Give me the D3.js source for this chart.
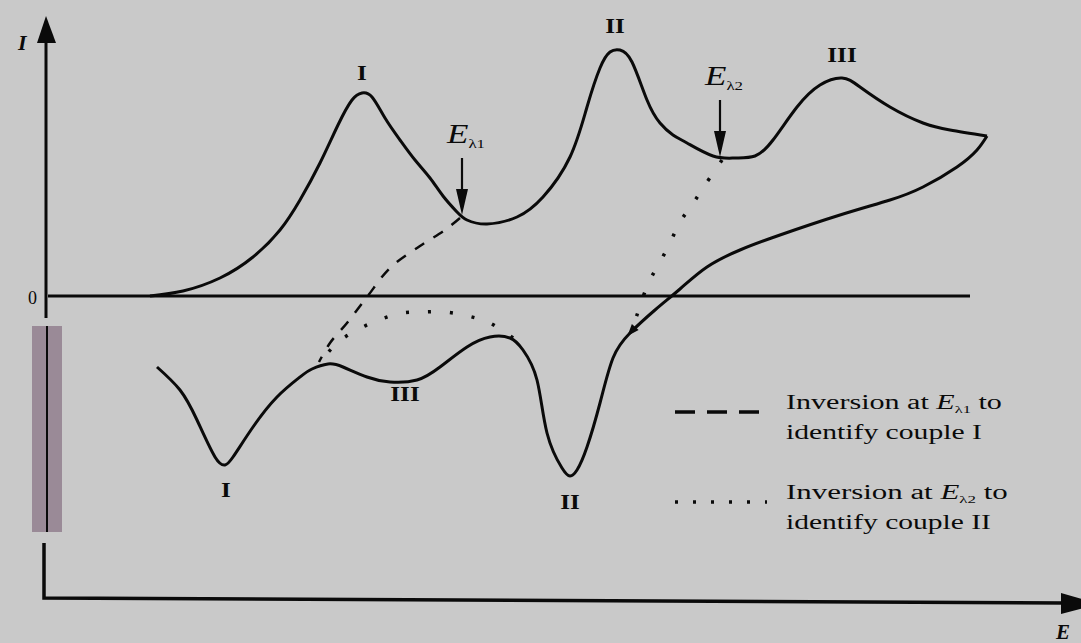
<!DOCTYPE html>
<html>
<head>
<meta charset="utf-8">
<script src="https://cdn.jsdelivr.net/npm/d3@7"></script>
<style>
  html, body { margin: 0; padding: 0; background: #c9c9c9; }
  svg { display: block; }
</style>
</head>
<body>
<svg id="chart" width="1081" height="643"></svg>
<script>
// Cyclic voltammogram with three redox couples (I, II, III),
// plus the reverse traces obtained by inverting the scan early at E_λ1 and E_λ2.

// Forward (anodic) scan: potential E and current I, arbitrary units
const forwardE = [10.5, 13.8, 17.5, 20.8, 23.5, 25.5, 27.5, 29.3, 30.7, 31.7, 32.7, 34.0, 35.5, 37.0,
  38.5, 39.8, 41.2, 42.2, 44.2, 47.2, 49.8, 52.5, 54.2, 55.5, 56.5, 57.5, 58.7, 60.2, 61.5, 62.8, 64.2,
  66.8, 69.0, 71.0, 72.8, 75.2, 77.5, 79.7, 81.5, 84.5, 87.8, 90.5, 94.2];
const forwardI = [0.0, 0.5, 1.8, 3.9, 6.6, 9.6, 13.3, 17.1, 19.6, 20.3, 19.9, 17.8, 15.6, 13.6,
  11.8, 10.0, 8.4, 7.6, 7.2, 7.9, 9.9, 13.9, 18.9, 22.8, 24.4, 24.6, 23.4, 19.6, 17.3, 16.1, 15.3,
  14.0, 13.8, 14.0, 15.6, 18.9, 21.1, 21.8, 20.9, 18.9, 17.3, 16.6, 16.0];

// Reverse (cathodic) scan after the full sweep
const reverseE = [94.2, 93.2, 91.2, 87.8, 84.5, 79.5, 73.5, 69.5, 66.2, 63.5, 61.0, 58.5,
  56.8, 55.5, 54.2, 53.2, 52.5, 51.7, 50.2, 49.2, 47.8, 46.5, 44.5, 42.2, 39.5, 37.2, 34.5, 32.2,
  29.8, 28.3, 26.7, 25.5, 23.2, 20.8, 18.8, 18.0, 17.0, 15.2, 13.5, 11.2];
const reverseI = [16.0, 14.6, 12.9, 10.9, 9.6, 8.1, 6.1, 4.6, 2.9, 0.7, -1.4, -3.7,
  -6.2, -10.7, -15.1, -17.4, -18.0, -17.2, -13.7, -8.4, -5.4, -4.2, -4.1, -5.1, -7.1, -8.4, -8.6, -8.1,
  -7.1, -6.8, -7.3, -8.1, -10.1, -13.1, -16.1, -16.9, -16.1, -12.4, -9.4, -7.1];

// Reverse trace after inversion at E_λ1 (dashed)
const invert1E = [41.5, 40.0, 37.5, 34.5, 32.2, 30.2, 28.5, 27.4];
const invert1I = [7.8, 6.6, 5.0, 2.8, -0.1, -2.7, -4.7, -6.6];

// Reverse trace after inversion at E_λ2 (dotted): descent to couple II, then the
// branch that skips couple III before rejoining near couple I
const invert2aE = [67.7, 66.0, 64.7, 63.5, 62.5, 61.5, 60.5, 59.8, 59.2, 58.6];
const invert2aI = [13.6, 11.1, 9.1, 7.4, 5.3, 3.4, 1.6, -0.1, -1.9, -3.5];
const invert2bE = [46.8, 44.5, 42.3, 40.0, 37.8, 35.7, 33.4, 31.2, 29.2, 27.7];
const invert2bI = [-4.2, -2.7, -2.0, -1.6, -1.6, -1.7, -2.4, -3.4, -4.7, -6.4];

// Peak labels: text, anchor potential/current, vertical offset in px
const peakNames = ["I", "II", "III", "I", "II", "III"];
const peakE = [31.7, 57.0, 79.7, 18.1, 52.5, 36.0];
const peakI = [20.3, 24.6, 21.8, -16.9, -18.0, -8.5];
const peakDy = [-13, -17, -16, 32, 33, 20];

// Switching potentials marked by arrows
const switchE = [41.7, 67.5];
const switchI = [8.0, 13.8];
const switchSub = ["λ1", "λ2"];

const svg = d3.select("#chart");
const W = 1081, H = 643;
svg.append("rect").attr("width", W).attr("height", H).attr("fill", "#c9c9c9");

const x = d3.scaleLinear().domain([0, 103]).range([45, 1075]);
const y = d3.scaleLinear().domain([-30, 28]).range([596, 16]);

const smooth = d3.line()
  .x(d => x(d[0])).y(d => y(d[1]))
  .curve(d3.curveNatural);
const through = d3.line()
  .x(d => x(d[0])).y(d => y(d[1]))
  .curve(d3.curveCatmullRom.alpha(0.5));
const zip = (a, b) => a.map((v, i) => [v, b[i]]);

const ink = "#0a0a0a";
const serif = "'Liberation Serif', 'DejaVu Serif', serif";

// ---- axes ----
const ax = svg.append("g");
// decorative shaded strip along the current axis
ax.append("rect").attr("x", 32).attr("y", 326).attr("width", 30).attr("height", 206)
  .attr("fill", "#9a8a97");
// current axis (drawn in segments) with arrowhead
ax.append("path").attr("d", "M46,42 L46,318").attr("stroke", ink).attr("stroke-width", 3);
ax.append("path").attr("d", "M47,326 L47,532").attr("stroke", ink).attr("stroke-width", 2);
ax.append("path").attr("d", "M44,543 L44,598 L1064,603").attr("stroke", ink)
  .attr("stroke-width", 3.5).attr("fill", "none");
ax.append("path").attr("d", "M46,16 L37,43 L56,43 Z").attr("fill", ink);
// potential axis arrowhead
ax.append("path").attr("d", "M1061,593 L1061,614 L1100,604 Z").attr("fill", ink);

// zero-current baseline with its label from a D3 axis
svg.append("line")
  .attr("x1", 48).attr("x2", 970).attr("y1", y(0)).attr("y2", y(0))
  .attr("stroke", ink).attr("stroke-width", 3);
const yAxis = svg.append("g").attr("transform", "translate(40,0)")
  .call(d3.axisLeft(y).tickValues([0]).tickSize(0).tickPadding(3).tickFormat(d3.format("d")));
yAxis.select(".domain").remove();
yAxis.selectAll("text").attr("font-family", serif).attr("font-size", 18)
  .attr("fill", ink).attr("dy", "0.4em");

// axis titles
svg.append("text").attr("x", 18).attr("y", 50).attr("font-family", serif)
  .attr("font-style", "italic").attr("font-weight", "bold").attr("font-size", 22)
  .attr("fill", ink).text("I");
svg.append("text").attr("x", 1056).attr("y", 639).attr("font-family", serif)
  .attr("font-style", "italic").attr("font-weight", "bold").attr("font-size", 21)
  .attr("fill", ink).text("E");

// ---- curves ----
svg.append("path").attr("d", smooth(zip(forwardE, forwardI)))
  .attr("fill", "none").attr("stroke", ink).attr("stroke-width", 3).attr("stroke-linejoin", "round");
svg.append("path").attr("d", smooth(zip(reverseE, reverseI)))
  .attr("fill", "none").attr("stroke", ink).attr("stroke-width", 3).attr("stroke-linejoin", "round");
svg.append("path").attr("d", through(zip(invert1E, invert1I)))
  .attr("fill", "none").attr("stroke", ink).attr("stroke-width", 2.5)
  .attr("stroke-dasharray", "11 11");
[zip(invert2aE, invert2aI), zip(invert2bE, invert2bI)].forEach(pts => {
  svg.append("path").attr("d", through(pts))
    .attr("fill", "none").attr("stroke", ink).attr("stroke-width", 3.5)
    .attr("stroke-dasharray", "3 19");
});

// direction arrowhead on the reverse scan
{
  const i = 11;
  const ang = Math.atan2(y(reverseI[i + 1]) - y(reverseI[i - 1]), x(reverseE[i + 1]) - x(reverseE[i - 1])) * 180 / Math.PI;
  svg.append("path").attr("d", "M4,0 L-8,-4.5 L-8,4.5 Z").attr("fill", ink)
    .attr("transform", `translate(${x(reverseE[i])},${y(reverseI[i])}) rotate(${ang})`);
}

// ---- switching-potential markers ----
switchE.forEach((e, i) => {
  const px = x(e), py = y(switchI[i]);
  const g = svg.append("g");
  g.append("line").attr("x1", px).attr("x2", px).attr("y1", py - 58).attr("y2", py - 20)
    .attr("stroke", ink).attr("stroke-width", 2.2);
  g.append("path").attr("d", `M${px},${py - 1} L${px - 6},${py - 27} L${px + 6},${py - 27} Z`).attr("fill", ink);
  const t = g.append("g").attr("transform", `translate(${px - 15},${py - 73}) scale(1.3,1)`);
  const tx = t.append("text").attr("font-family", serif).attr("font-style", "italic")
    .attr("font-size", 27).attr("fill", ink);
  tx.append("tspan").text("E");
  tx.append("tspan").attr("font-size", 13).attr("dy", 5).attr("font-style", "normal").text(switchSub[i]);
});

// ---- peak labels ----
peakNames.forEach((n, i) => {
  svg.append("text")
    .attr("transform", `translate(${x(peakE[i])},${y(peakI[i]) + peakDy[i]}) scale(1.2,1)`)
    .attr("text-anchor", "middle").attr("font-family", serif).attr("font-weight", "bold")
    .attr("font-size", 21).attr("fill", ink).text(n);
});

// ---- legend ----
const legendRows = [
  { style: "dash", first: ["Inversion at ", "E", "λ1", " to"], second: "identify couple I", top: 409, w1: 216, w2: 196 },
  { style: "dot", first: ["Inversion at ", "E", "λ2", " to"], second: "identify couple II", top: 499, w1: 222, w2: 205 }
];
legendRows.forEach(r => {
  const sy = r.top + 3;
  svg.append("line").attr("x1", 675).attr("x2", 767).attr("y1", sy).attr("y2", sy)
    .attr("stroke", ink)
    .attr("stroke-width", 3.5)
    .attr("stroke-dasharray", r.style === "dash" ? "20 12" : "3 15");
  const g1 = svg.append("g").attr("transform", `translate(786,${r.top})`);
  const t1 = g1.append("text").attr("font-family", serif).attr("font-size", 20).attr("fill", ink);
  t1.append("tspan").text(r.first[0]);
  t1.append("tspan").attr("font-style", "italic").text(r.first[1]);
  t1.append("tspan").attr("font-size", 11).attr("dy", 4).text(r.first[2]);
  t1.append("tspan").attr("dy", -4).text(r.first[3]);
  const b1 = t1.node().getBBox();
  t1.attr("transform", `scale(${r.w1 / b1.width},1)`);
  const g2 = svg.append("g").attr("transform", `translate(786,${r.top + 30})`);
  const t2 = g2.append("text").attr("font-family", serif).attr("font-size", 20).attr("fill", ink).text(r.second);
  const b2 = t2.node().getBBox();
  t2.attr("transform", `scale(${r.w2 / b2.width},1)`);
});
</script>
</body>
</html>
